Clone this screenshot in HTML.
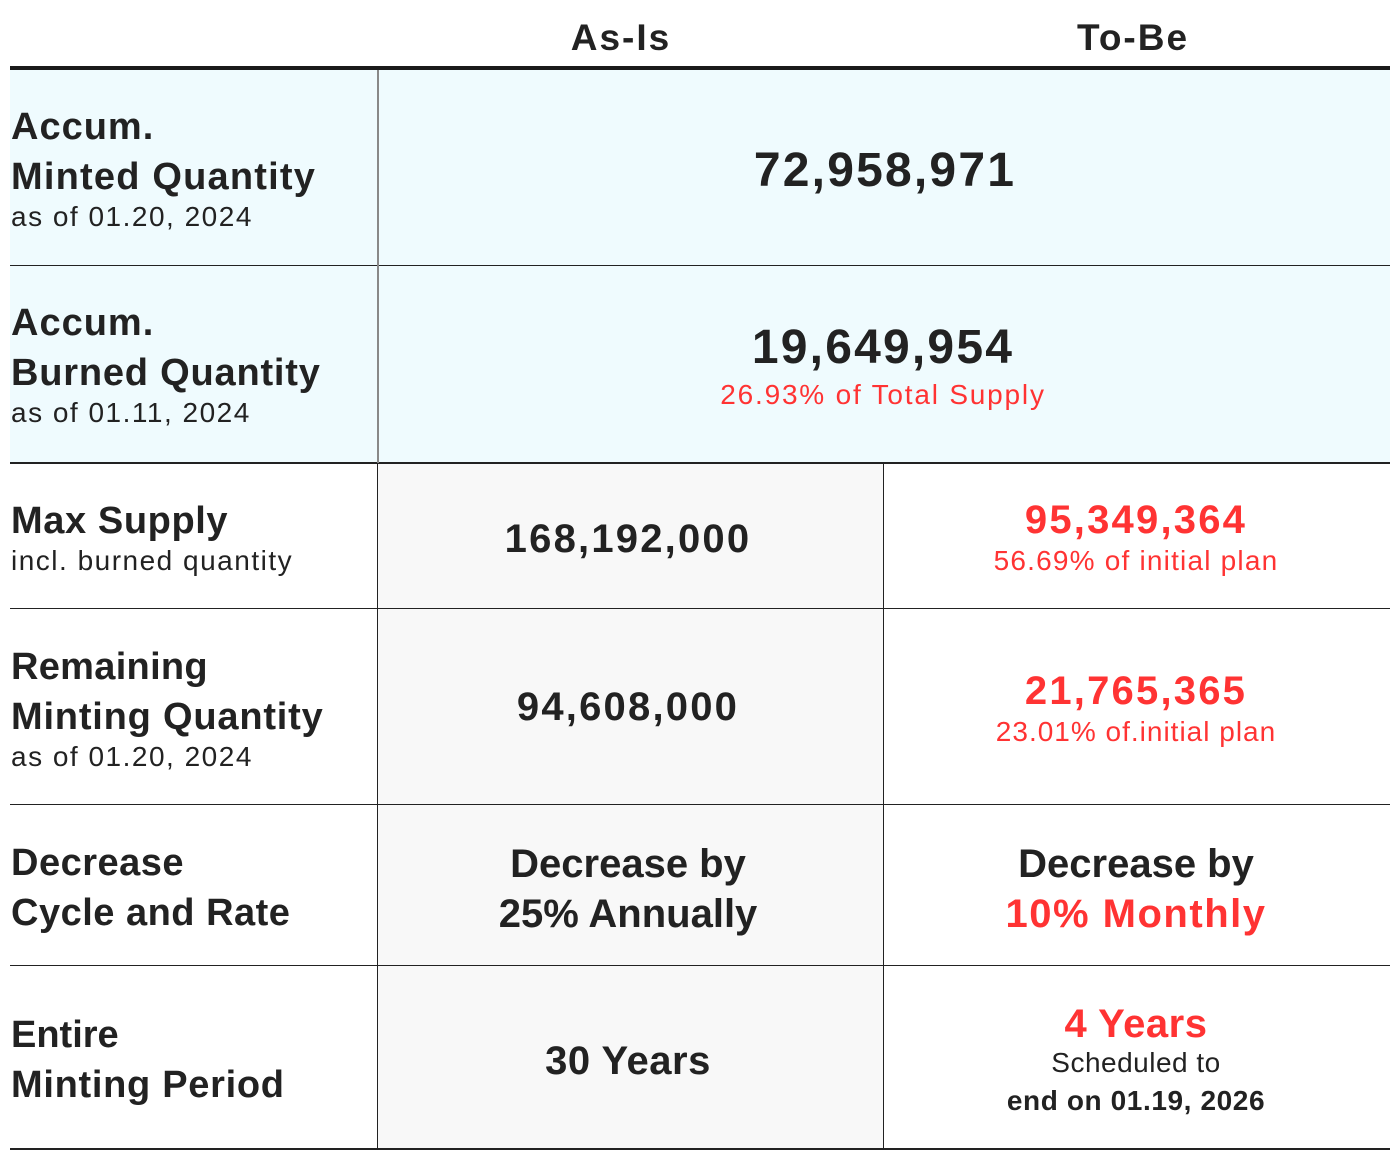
<!DOCTYPE html>
<html><head><meta charset="utf-8"><style>
body{margin:0;width:1400px;height:1160px;background:#fff;position:relative;font-family:"Liberation Sans",sans-serif;color:#222;overflow:hidden}
.a{position:absolute}
.t{position:absolute;white-space:nowrap;line-height:1}
.b{font-weight:bold}
.c{transform:translateX(-50%)}
.r{color:#f33}
.n{letter-spacing:2.2px}
.s{letter-spacing:1.5px}
</style></head><body>
<div class="a" style="left:10px;top:69px;width:1380px;height:394px;background:#effbfe"></div>
<div class="a" style="left:378px;top:463px;width:505px;height:686px;background:#f8f8f8"></div>
<div class="a" style="left:10px;top:66px;width:1380px;height:4px;background:#1a1a1a"></div>
<div class="a" style="left:10px;top:265px;width:1380px;height:1px;background:#222"></div>
<div class="a" style="left:10px;top:462px;width:1380px;height:2px;background:#222"></div>
<div class="a" style="left:10px;top:608px;width:1380px;height:1px;background:#222"></div>
<div class="a" style="left:10px;top:804px;width:1380px;height:1px;background:#222"></div>
<div class="a" style="left:10px;top:965px;width:1380px;height:1px;background:#222"></div>
<div class="a" style="left:10px;top:1148px;width:1380px;height:2px;background:#222"></div>
<div class="a" style="left:377px;top:70px;width:2px;height:393px;background:#888"></div>
<div class="a" style="left:377px;top:463px;width:1px;height:686px;background:#222"></div>
<div class="a" style="left:883px;top:463px;width:1px;height:686px;background:#222"></div>

<div class="t b c" style="left:621px;top:19px;font-size:37px;letter-spacing:2px">As-Is</div>
<div class="t b c" style="left:1133px;top:19px;font-size:37px;letter-spacing:2px">To-Be</div>

<div class="t b" style="left:11px;top:108px;font-size:38px;letter-spacing:1px">Accum.</div>
<div class="t b" style="left:11px;top:158px;font-size:38px;letter-spacing:1.2px">Minted Quantity</div>
<div class="t s" style="left:11px;top:203px;font-size:28px">as of 01.20, 2024</div>
<div class="t b c n" style="left:885px;top:147px;font-size:48px">72,958,971</div>

<div class="t b" style="left:11px;top:304px;font-size:38px;letter-spacing:1px">Accum.</div>
<div class="t b" style="left:11px;top:354px;font-size:38px;letter-spacing:0.8px">Burned Quantity</div>
<div class="t s" style="left:11px;top:399px;font-size:28px">as of 01.11, 2024</div>
<div class="t b c n" style="left:883px;top:324px;font-size:48px">19,649,954</div>
<div class="t c r" style="left:883px;top:381px;font-size:28px;letter-spacing:1.8px">26.93% of Total Supply</div>

<div class="t b" style="left:11px;top:502px;font-size:38px;letter-spacing:0.6px">Max Supply</div>
<div class="t s" style="left:11px;top:547px;font-size:28px">incl. burned quantity</div>
<div class="t b c n" style="left:628px;top:519px;font-size:40px">168,192,000</div>
<div class="t b c r n" style="left:1136px;top:500px;font-size:40px">95,349,364</div>
<div class="t c r" style="left:1136px;top:547px;font-size:28px;letter-spacing:1.2px">56.69% of initial plan</div>

<div class="t b" style="left:11px;top:648px;font-size:38px;letter-spacing:0.3px">Remaining</div>
<div class="t b" style="left:11px;top:698px;font-size:38px;letter-spacing:0.8px">Minting Quantity</div>
<div class="t s" style="left:11px;top:743px;font-size:28px">as of 01.20, 2024</div>
<div class="t b c n" style="left:628px;top:687px;font-size:40px">94,608,000</div>
<div class="t b c r n" style="left:1136px;top:671px;font-size:40px">21,765,365</div>
<div class="t c r" style="left:1136px;top:718px;font-size:28px;letter-spacing:1px">23.01% of.initial plan</div>

<div class="t b" style="left:11px;top:844px;font-size:38px;letter-spacing:0.5px">Decrease</div>
<div class="t b" style="left:11px;top:894px;font-size:38px;letter-spacing:0.5px">Cycle and Rate</div>
<div class="t b c" style="left:628px;top:844px;font-size:40px">Decrease by</div>
<div class="t b c" style="left:628px;top:894px;font-size:40px">25% Annually</div>
<div class="t b c" style="left:1136px;top:844px;font-size:40px">Decrease by</div>
<div class="t b c r" style="left:1136px;top:894px;font-size:40px;letter-spacing:1.5px">10% Monthly</div>

<div class="t b" style="left:11px;top:1016px;font-size:38px">Entire</div>
<div class="t b" style="left:11px;top:1066px;font-size:38px;letter-spacing:0.7px">Minting Period</div>
<div class="t b c" style="left:628px;top:1041px;font-size:40px;letter-spacing:0.5px">30 Years</div>
<div class="t b c r" style="left:1136px;top:1004px;font-size:40px;letter-spacing:0.5px">4 Years</div>
<div class="t c" style="left:1136px;top:1049px;font-size:28px;letter-spacing:0.5px">Scheduled to</div>
<div class="t b c" style="left:1136px;top:1087px;font-size:28px;letter-spacing:0.6px">end on 01.19, 2026</div>
</body></html>
